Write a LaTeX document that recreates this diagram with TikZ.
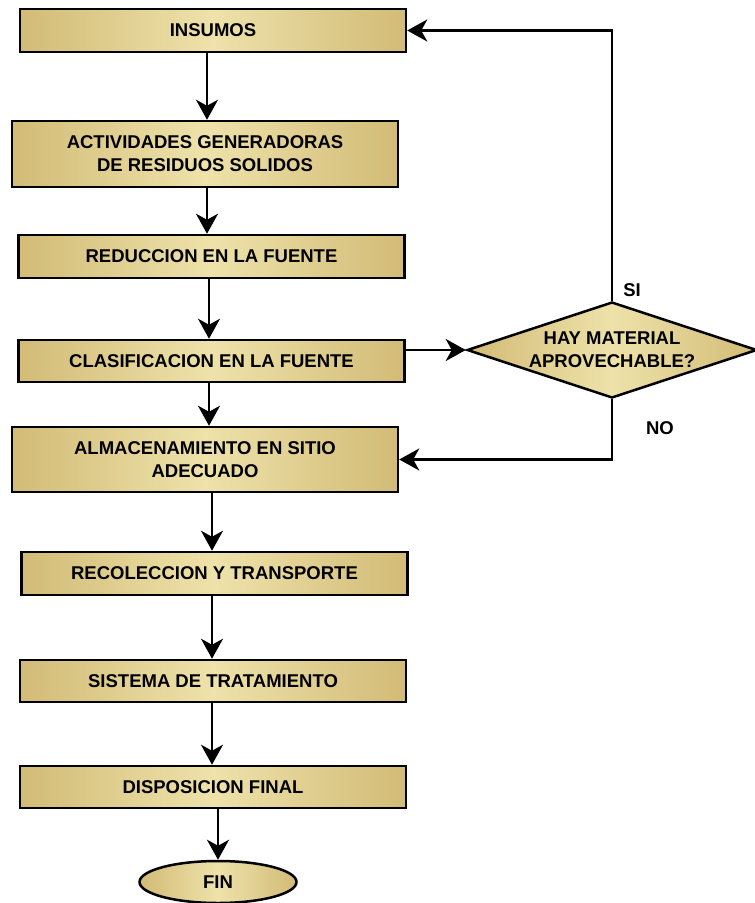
\documentclass[tikz,border=0pt]{standalone}
\usepackage{fontspec}
\setmainfont{Liberation Sans}
\usetikzlibrary{shapes.geometric,arrows.meta}
\definecolor{gdark}{HTML}{D2BB76}
\definecolor{glight}{HTML}{EEE2AA}
\begin{document}
\begin{tikzpicture}[x=1pt,y=-1pt,
  every node/.style={font=\fontsize{18.5}{23}\selectfont\bfseries},
  gold/.style={draw=black,line width=2.5pt,left color=gdark,right color=gdark,middle color=glight,inner sep=0pt,align=center},
  stepbox/.style={gold,rectangle,minimum width=386pt},
  arr/.style={line width=2.5pt,-{Stealth[length=20pt,width=22pt,inset=6pt]}}]
\useasboundingbox (0,0) rectangle (755,903);
\node[stepbox,minimum height=43pt] (ins) at (213,30.5) {INSUMOS};
\node[stepbox,minimum height=66pt] (act) at (205,154) {ACTIVIDADES GENERADORAS\\DE RESIDUOS SOLIDOS};
\node[stepbox,minimum height=43pt] (red) at (211.5,256.5) {REDUCCION EN LA FUENTE};
\node[stepbox,minimum height=42pt] (cla) at (211.5,361) {CLASIFICACION EN LA FUENTE};
\node[stepbox,minimum height=65pt] (alm) at (205,459.5) {ALMACENAMIENTO EN SITIO\\ADECUADO};
\node[stepbox,minimum height=43pt] (rec) at (214.5,573.5) {RECOLECCION Y TRANSPORTE};
\node[stepbox,minimum height=42pt] (sis) at (213,681) {SISTEMA DE TRATAMIENTO};
\node[stepbox,minimum height=42pt] (dis) at (213,787) {DISPOSICION FINAL};
\node[gold,ellipse,minimum width=157pt,minimum height=42pt] (fin) at (218,882) {FIN};
\node[gold,diamond,shape aspect=3,minimum width=290pt,minimum height=96pt] (dia) at (612,350) {HAY MATERIAL\\APROVECHABLE?};
\node (si) at (632,290) {SI};
\node (no) at (660,428) {NO};
\draw[arr] ([xshift=-6pt]ins.south) -- ([xshift=-6pt]ins.south |- act.north);
\draw[arr] ([xshift=2pt]act.south) -- ([xshift=2pt]act.south |- red.north);
\draw[arr] ([xshift=-2.5pt]red.south) -- ([xshift=-2.5pt]red.south |- cla.north);
\draw[arr] ([xshift=-2.5pt]cla.south) -- ([xshift=-2.5pt]cla.south |- alm.north);
\draw[arr] ([xshift=7pt]alm.south) -- ([xshift=7pt]alm.south |- rec.north);
\draw[arr] ([xshift=-2.5pt]rec.south) -- ([xshift=-2.5pt]rec.south |- sis.north);
\draw[arr] ([xshift=-1pt]sis.south) -- ([xshift=-1pt]sis.south |- dis.north);
\draw[arr] (dis.south -| fin.north) -- (fin.north);
\draw[arr] (dia.west -| cla.east) -- (dia.west);
\draw[arr] (dia.north) |- (ins.east);
\draw[arr] (dia.south) |- (alm.east);
\end{tikzpicture}
\end{document}
